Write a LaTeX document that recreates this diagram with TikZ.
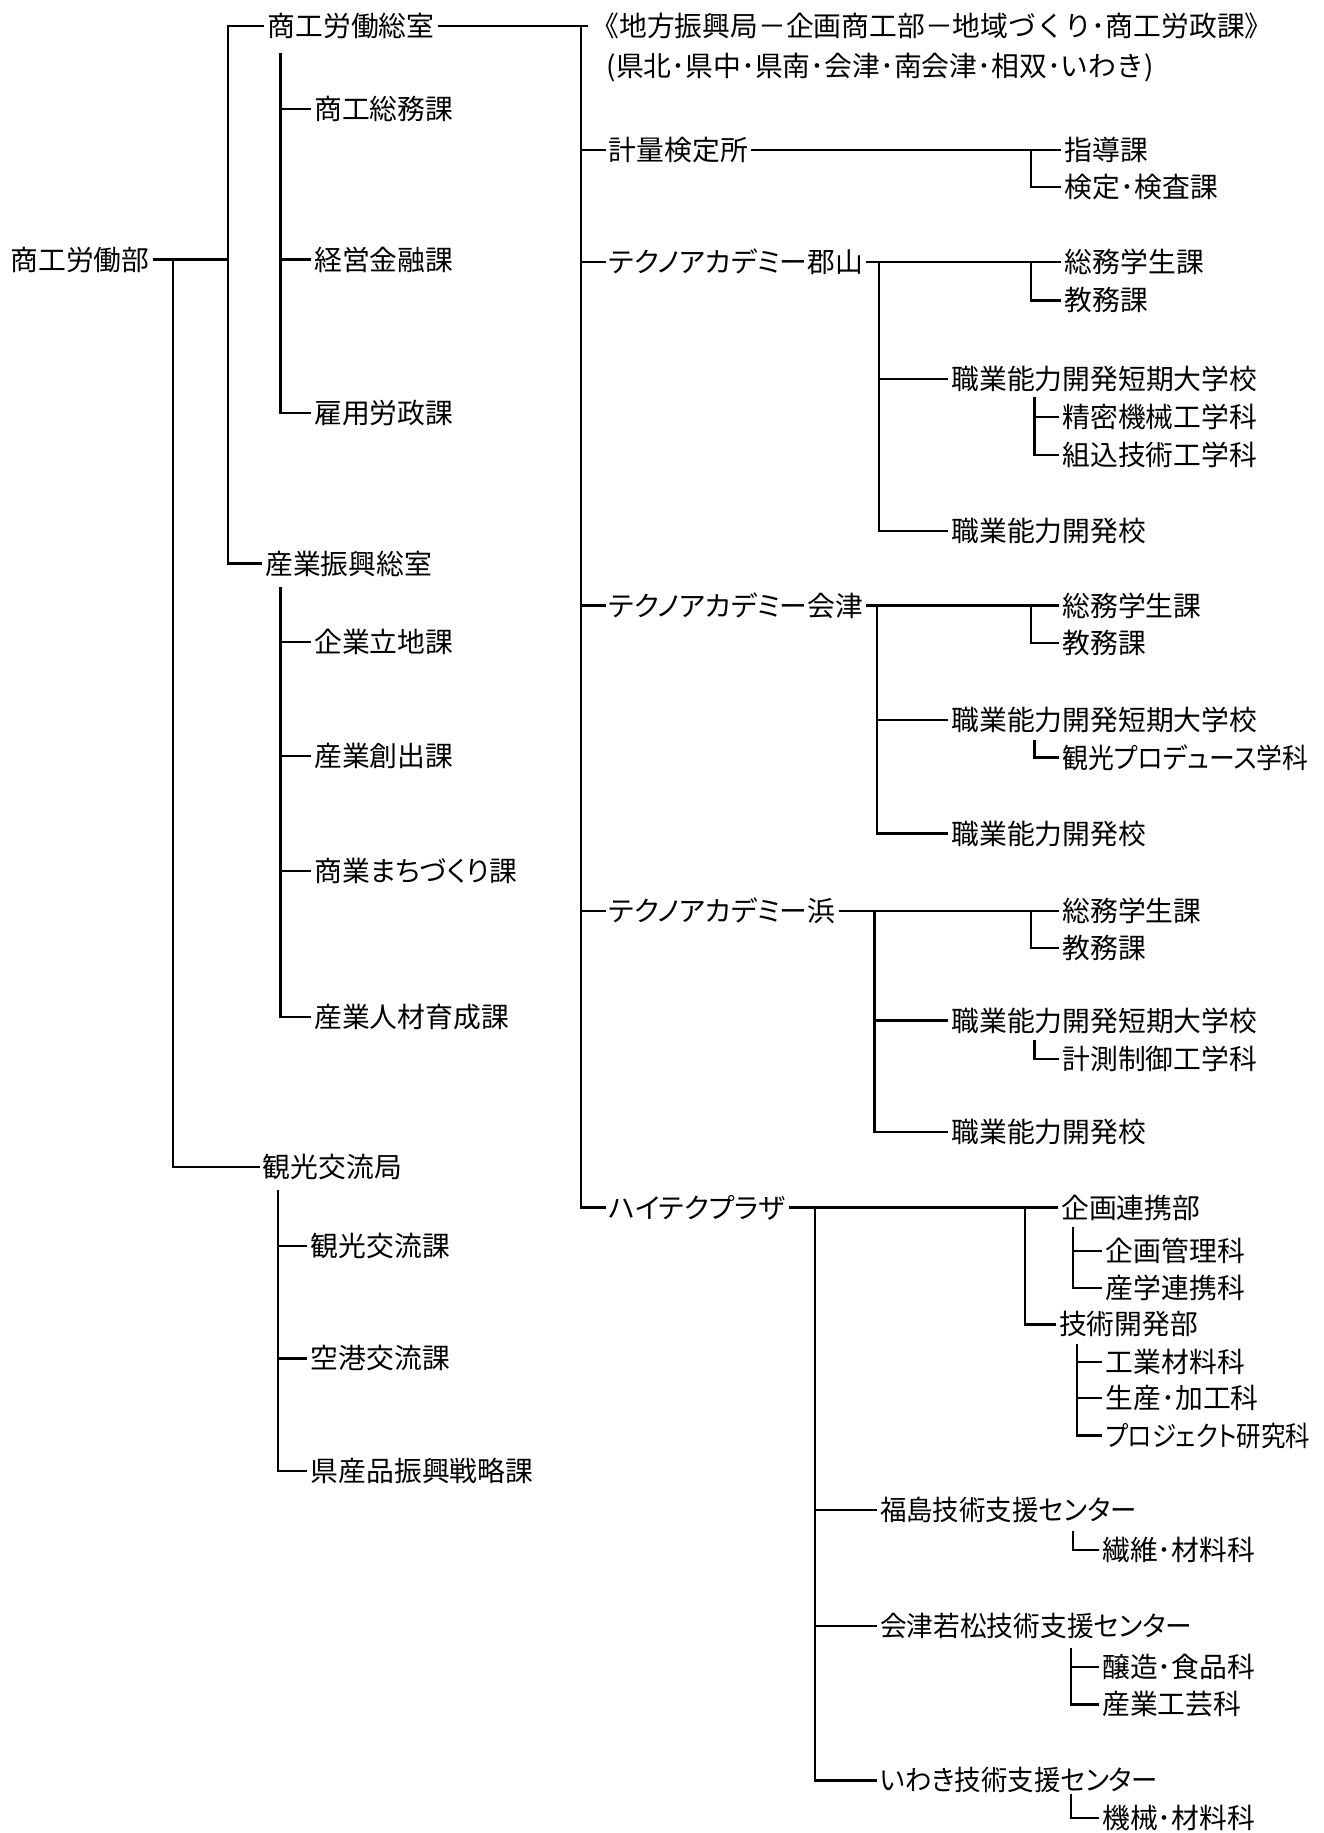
\documentclass[tikz,border=0pt]{standalone}
\usepackage{fontspec}
\usepackage{graphicx}
\setmainfont{Noto Sans CJK JP}
\newfontfamily\palfont[RawFeature=+palt]{Noto Sans CJK JP}
\begin{document}
\begin{tikzpicture}[x=0.58435pt,y=-0.58435pt,
  lbl/.style={anchor=west,inner xsep=1.5pt,inner ysep=1pt,font=\fontsize{13.9pt}{16pt}\selectfont},
  kana/.style={lbl,font=\fontsize{13.9pt}{16pt}\selectfont\palfont},
  ln/.style={line width=1.1pt}]
\useasboundingbox (0,0) rectangle (1132,1568);
% ---- column 0/1 ----
\node[lbl] (n0) at (6,222) {商工労働部};
\node[lbl] (a1) at (226,22) {商工労働総室};
\node[lbl] (a11) at (266,93) {商工総務課};
\node[lbl] (a12) at (266,222) {経営金融課};
\node[lbl] (a13) at (266,353) {雇用労政課};
\node[lbl] (a2) at (224,482) {産業振興総室};
\node[lbl] (a21) at (266,549) {企業立地課};
\node[lbl] (a22) at (266,647) {産業創出課};
\node[kana] (a23) at (266,745) {商業まちづくり課};
\node[lbl] (a24) at (266,870) {産業人材育成課};
\node[lbl] (a3) at (222,998) {観光交流局};
\node[lbl] (a31) at (263,1066) {観光交流課};
\node[lbl] (a32) at (263,1162) {空港交流課};
\node[lbl] (a33) at (263,1258) {県産品振興戦略課};
% ---- column 2 ----
\node[lbl] (b0) at (503,22) {《地方振興局－企画商工部－地域づくり･商工労政課》};
\node[lbl] (b0s) at (516,58) {(県北･県中･県南･会津･南会津･相双･いわき)};
\node[lbl] (b1) at (518,128) {計量検定所};
\node[lbl] (b11) at (908,128) {指導課};
\node[lbl] (b12) at (908,160) {検定･検査課};
\node[kana] (b2) at (518,224) {テクノアカデミー郡山};
\node[lbl] (b21) at (908,224) {総務学生課};
\node[lbl] (b22) at (908,257) {教務課};
\node[lbl] (b23) at (811,324) {職業能力開発短期大学校};
\node[lbl] (b231) at (906,357) {精密機械工学科};
\node[lbl] (b232) at (906,389) {組込技術工学科};
\node[lbl] (b24) at (811,454) {職業能力開発校};
\node[kana] (b3) at (518,518) {テクノアカデミー会津};
\node[lbl] (b31) at (906,518) {総務学生課};
\node[lbl] (b32) at (906,550) {教務課};
\node[lbl] (b33) at (811,616) {職業能力開発短期大学校};
\node[kana] (b331) at (906,648) {\scalebox{0.93}[1]{観光プロデュース学科}};
\node[lbl] (b34) at (811,713) {職業能力開発校};
\node[kana] (b4) at (518,779) {テクノアカデミー浜};
\node[lbl] (b41) at (906,779) {総務学生課};
\node[lbl] (b42) at (906,811) {教務課};
\node[lbl] (b43) at (811,873) {職業能力開発短期大学校};
\node[lbl] (b431) at (906,906) {計測制御工学科};
\node[lbl] (b44) at (811,968) {職業能力開発校};
\node[kana] (b5) at (518,1033) {ハイテクプラザ};
\node[lbl] (b51) at (905,1033) {企画連携部};
\node[lbl] (b511) at (943,1070) {企画管理科};
\node[lbl] (b512) at (943,1102) {産学連携科};
\node[lbl] (b52) at (903,1133) {技術開発部};
\node[lbl] (b521) at (943,1165) {工業材料科};
\node[lbl] (b522) at (943,1196) {生産･加工科};
\node[kana] (b523) at (943,1228) {\scalebox{0.88}[1]{プロジェクト研究科}};
\node[kana] (b6) at (750,1292) {\scalebox{0.95}[1]{福島技術支援センター}};
\node[lbl] (b61) at (940,1326) {繊維･材料科};
\node[kana] (b7) at (750,1391) {\scalebox{0.96}[1]{会津若松技術支援センター}};
\node[lbl] (b71) at (940,1426) {醸造･食品科};
\node[lbl] (b72) at (940,1458) {産業工芸科};
\node[kana] (b8) at (750,1523) {\scalebox{0.95}[1]{いわき技術支援センター}};
\node[lbl] (b81) at (940,1555) {機械･材料科};
% ---- bus coordinates ----
\coordinate (v1) at (195,222);
\coordinate (v2) at (148,222);
\coordinate (s1) at (240,45);
\coordinate (s2) at (240,502);
\coordinate (s3) at (238,1018);
\coordinate (m) at (497,22);
\coordinate (k1) at (882,128);
\coordinate (k2) at (882,224);
\coordinate (g2) at (752,224);
\coordinate (t2) at (885,340);
\coordinate (k3) at (882,518);
\coordinate (g3) at (750,518);
\coordinate (t3) at (885,633);
\coordinate (k4) at (882,779);
\coordinate (g4) at (748,779);
\coordinate (t4) at (885,890);
\coordinate (k5) at (877,1033);
\coordinate (g5) at (697,1033);
\coordinate (p1) at (918,1050);
\coordinate (p2) at (921,1150);
\coordinate (q6) at (918,1310);
\coordinate (q7) at (916,1410);
\coordinate (q8) at (916,1535);
% ---- connectors ----
\draw[ln] (n0.east) -- (v1);
\draw[ln] (v1) |- (a1.west);
\draw[ln] (v1) |- (a2.west);
\draw[ln] (v2) |- (a3.west);
\draw[ln] (s1) |- (a11.west);
\draw[ln] (s1) |- (a12.west);
\draw[ln] (s1) |- (a13.west);
\draw[ln] (s2) |- (a21.west);
\draw[ln] (s2) |- (a22.west);
\draw[ln] (s2) |- (a23.west);
\draw[ln] (s2) |- (a24.west);
\draw[ln] (s3) |- (a31.west);
\draw[ln] (s3) |- (a32.west);
\draw[ln] (s3) |- (a33.west);
\draw[ln] (a1.east) -- (b0.west);
\draw[ln] (m) |- (b1.west);
\draw[ln] (m) |- (b2.west);
\draw[ln] (m) |- (b3.west);
\draw[ln] (m) |- (b4.west);
\draw[ln] (m) |- (b5.west);
\draw[ln] (b1.east) -- (b11.west);
\draw[ln] (k1) |- (b12.west);
\draw[ln] (b2.east) -- (b21.west);
\draw[ln] (k2) |- (b22.west);
\draw[ln] (g2) |- (b23.west);
\draw[ln] (g2) |- (b24.west);
\draw[ln] (t2) |- (b231.west);
\draw[ln] (t2) |- (b232.west);
\draw[ln] (b3.east) -- (b31.west);
\draw[ln] (k3) |- (b32.west);
\draw[ln] (g3) |- (b33.west);
\draw[ln] (g3) |- (b34.west);
\draw[ln] (t3) |- (b331.west);
\draw[ln] (b4.east) -- (b41.west);
\draw[ln] (k4) |- (b42.west);
\draw[ln] (g4) |- (b43.west);
\draw[ln] (g4) |- (b44.west);
\draw[ln] (t4) |- (b431.west);
\draw[ln] (b5.east) -- (b51.west);
\draw[ln] (k5) |- (b52.west);
\draw[ln] (p1) |- (b511.west);
\draw[ln] (p1) |- (b512.west);
\draw[ln] (p2) |- (b521.west);
\draw[ln] (p2) |- (b522.west);
\draw[ln] (p2) |- (b523.west);
\draw[ln] (g5) |- (b6.west);
\draw[ln] (g5) |- (b7.west);
\draw[ln] (g5) |- (b8.west);
\draw[ln] (q6) |- (b61.west);
\draw[ln] (q7) |- (b71.west);
\draw[ln] (q7) |- (b72.west);
\draw[ln] (q8) |- (b81.west);
\end{tikzpicture}
\end{document}
